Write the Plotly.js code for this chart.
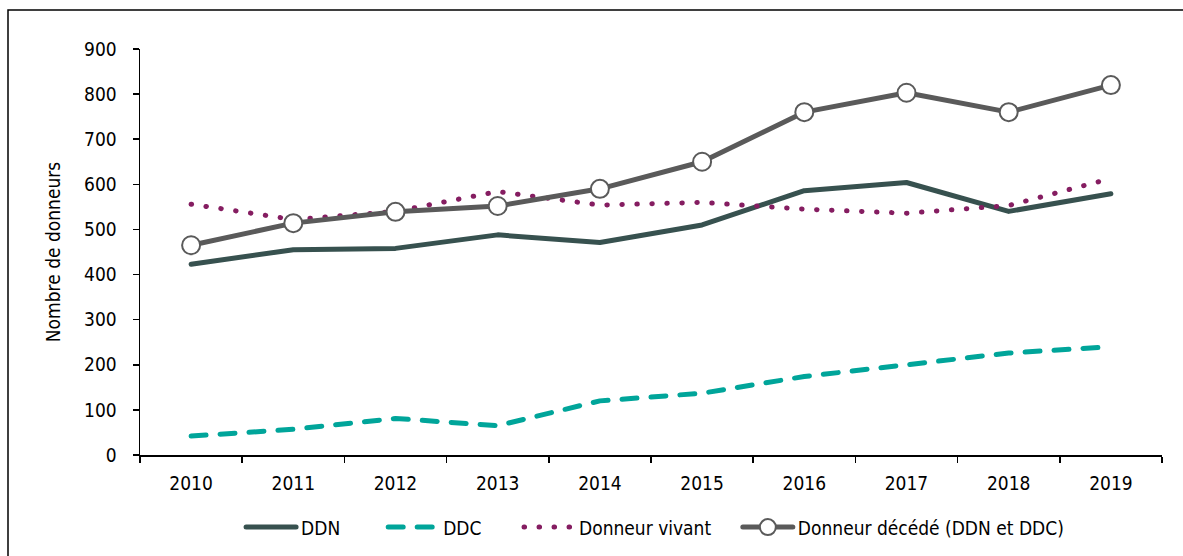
<!DOCTYPE html>
<html>
<head>
<meta charset="utf-8">
<script src="https://cdn.plot.ly/plotly-3.0.1.min.js"></script>
<style>
html,body{margin:0;padding:0;background:#fff;}
#chart{width:1183px;height:556px;}
#chart path.js-line{stroke-linecap:round;stroke-linejoin:round;}
</style>
</head>
<body>
<div id="chart"></div>
<script>
var years = ['2010','2011','2012','2013','2014','2015','2016','2017','2018','2019'];
var ddn = [423, 455, 458, 488, 471, 510, 586, 604, 540, 579];
var ddc = [42, 57, 81, 65, 120, 137, 174, 200, 226, 240];
var vivant = [556, 522, 540, 584, 554, 560, 545, 536, 553, 613];
var decede = [465, 514, 539, 552, 590, 650, 760, 803, 760, 820];
var yTicks = [0,100,200,300,400,500,600,700,800,900];
var seriesNames = ['DDN', 'DDC', 'Donneur vivant', 'Donneur décédé (DDN et DDC)'];

var FONT = '"DejaVu Sans Condensed", "Liberation Sans Narrow", sans-serif';
var FS = 19;
function pad(n) { return '\u00a0'.repeat(n); }

var traces = [
  {x: years, y: ddn, name: seriesNames[0] + pad(7), type: 'scatter', mode: 'lines',
   line: {color: '#37514f', width: 5}},
  {x: years, y: ddc, name: seriesNames[1] + pad(6), type: 'scatter', mode: 'lines',
   line: {color: '#00a59a', width: 5, dash: '15px,14px'}},
  {x: years, y: vivant, name: seriesNames[2] + pad(4), type: 'scatter', mode: 'lines',
   line: {color: '#851d61', width: 5, dash: '0.5px,14.5px'}},
  {x: years, y: decede, name: seriesNames[3], type: 'scatter', mode: 'lines+markers',
   line: {color: '#5a5a5a', width: 5},
   marker: {symbol: 'circle', size: 18, color: '#ffffff', line: {color: '#5a5a5a', width: 2}}}
];

var layout = {
  width: 1183, height: 556,
  margin: {l: 140, r: 21, t: 49, b: 101, autoexpand: false},
  paper_bgcolor: '#ffffff', plot_bgcolor: '#ffffff',
  font: {family: FONT, size: FS, color: '#000000'},
  showlegend: true,
  legend: {orientation: 'h', x: 0.504, xanchor: 'center', y: -0.178, yanchor: 'middle',
           itemwidth: 50,
           font: {family: FONT, size: FS, color: '#000'}, traceorder: 'normal'},
  xaxis: {type: 'category', range: [-0.5, 9.5], showgrid: false, zeroline: false,
          showline: true, linecolor: '#000', linewidth: 1.5,
          ticks: 'outside', ticklen: 6, tickcolor: '#000', tickwidth: 1.5, tickson: 'boundaries',
          tickfont: {family: FONT, size: FS, color: '#000'}, ticklabelstandoff: 11, fixedrange: true},
  yaxis: {range: [0, 900], tickvals: yTicks, showgrid: false, zeroline: false,
          showline: true, linecolor: '#000', linewidth: 1.5,
          ticks: 'outside', ticklen: 6, tickcolor: '#000', tickwidth: 1.5,
          tickfont: {family: FONT, size: FS, color: '#000'}, ticklabelstandoff: 12,
          title: {text: 'Nombre de donneurs', font: {family: FONT, size: FS, color: '#000'}, standoff: 18},
          fixedrange: true},
  shapes: [{type: 'rect', xref: 'paper', yref: 'paper', layer: 'below',
            x0: (8 - 140) / 1022, x1: (1190 - 140) / 1022,
            y0: (455 - 560) / 406, y1: (455 - 10) / 406,
            line: {color: '#000', width: 1.5}, fillcolor: 'rgba(0,0,0,0)'}]
};

Plotly.newPlot('chart', traces, layout, {displayModeBar: false, staticPlot: true});
</script>
</body>
</html>
